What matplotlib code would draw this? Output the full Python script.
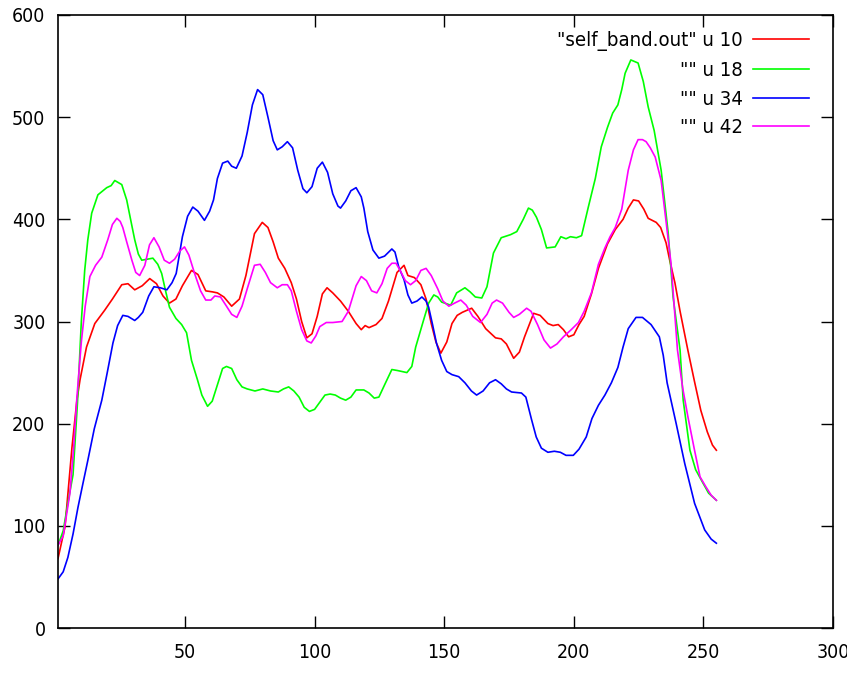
import numpy as np
import matplotlib
matplotlib.use("Agg")
from matplotlib import pyplot as plt

# values (column x, value)
red_x = [1, 3.7, 6.4, 8.3, 9.5, 12, 15.2, 19, 22, 25.6, 28, 30.6, 33.5, 36.4, 39, 41.5, 44, 46.5, 49, 52.5,
         55, 58, 60.6, 62.5, 65, 68, 71, 73.5, 76.8, 79.8, 82, 84, 86, 88.5, 91, 93, 95, 97, 99, 101,
         103, 104.8, 107, 110, 113, 116, 118, 119.5, 121, 123.7, 126, 128.5, 131.8, 134.5, 136, 138.5, 141, 143, 145, 146.8,
         148.7, 151, 153, 155, 157, 160.6, 163, 166, 169.8, 172, 174, 176.8, 179, 181, 184.5, 187, 190, 192, 194, 196,
         198, 200, 202, 204, 206.8, 209.5, 213, 216, 219, 221, 223, 225, 227, 228.7, 231.8, 233.5, 235.6, 237, 239, 241,
         244, 246.5, 249, 251.5, 253.5, 255]
red_y = [68, 99, 177, 223, 243, 275, 298, 311, 322, 336, 337, 331, 335, 342, 337, 325, 318, 322, 335, 350,
         346, 330, 329, 328, 324, 315, 322, 345, 386, 397, 392, 378, 362, 352, 338, 322, 300, 284, 288, 305,
         327, 333, 328, 320, 310, 298, 292, 296, 294, 297, 303, 320, 348, 355, 345, 343, 336, 322, 298, 280,
         269, 280, 298, 306, 309, 313, 305, 293, 284, 283, 278, 264, 270, 285, 308, 306, 298, 296, 297, 292,
         285, 287, 297, 305, 327, 352, 376, 390, 400, 411, 419, 418, 410, 401, 397, 392, 377, 360, 338, 310,
         272, 242, 213, 192, 179, 174]

green_x = [1, 3, 5, 6.8, 8.5, 10, 11.3, 12.5, 14, 16.4, 19.8, 21.5, 22.9, 25.6, 27.5, 29, 30.6, 32, 33.3, 35.5,
           37.6, 39.5, 41, 42.5, 44, 46.5, 48.7, 50.6, 52.5, 54.8, 56.5, 58.7, 60.5, 62.5, 64.5, 66, 68, 70, 72, 74,
           77, 80, 83, 86, 88, 90, 92, 94, 96, 98, 100, 102, 104, 106, 108, 110, 112, 114, 116, 119,
           121, 123, 124.8, 127, 129.8, 132, 135.6, 137.5, 139, 142, 144, 146, 147.5, 149, 152.5, 154.8, 158, 160, 162, 164.5,
           166.5, 169, 172, 175.6, 178, 180.5, 182.5, 184, 185.6, 187.5, 189.5, 192.8, 195, 197, 198.7, 201, 203, 205.6, 208.3, 210.6,
           213, 215, 217, 218.5, 219.8, 222, 224.8, 226.8, 228.7, 231, 233.7, 236.4, 238.3, 241, 242.2, 244.8, 247, 249.8, 252, 255]
green_y = [81, 95, 125, 150, 220, 300, 350, 380, 406, 424, 431, 433, 438, 434, 419, 400, 380, 366, 360, 361,
           362, 356, 347, 330, 314, 303, 297, 289, 262, 243, 228, 217, 222, 238, 254, 256, 254, 243, 236, 234,
           232, 234, 232, 231, 234, 236, 232, 226, 216, 212, 214, 221, 228, 229, 228, 225, 223, 226, 233, 233,
           230, 225, 226, 238, 253, 252, 250, 256, 275, 301, 318, 326, 324, 319, 316, 328, 333, 329, 324, 323,
           334, 367, 382, 385, 388, 400, 411, 409, 402, 390, 372, 373, 383, 381, 383, 382, 384, 412, 440, 471,
           490, 504, 512, 527, 543, 556, 553, 535, 510, 487, 448, 387, 324, 272, 223, 174, 155, 142, 132, 125]

blue_x = [1, 3, 4.8, 6.8, 8.7, 10.5, 12.5, 15, 17.9, 20, 22.2, 24, 26, 28, 30.6, 32, 33.7, 36, 38, 40.5,
          43, 45, 46.6, 49, 51, 53, 55, 57.5, 59.5, 61, 62.5, 64.5, 66.5, 68, 69.8, 72, 74, 76, 78, 80,
          82, 84, 85.6, 87.5, 89.5, 91.5, 93.5, 95.5, 97, 99, 101, 103, 105, 107, 109, 110, 112, 114, 116, 118,
          119, 120.5, 122.5, 124.8, 127, 129.8, 131, 132.5, 134.5, 136, 137.5, 139.5, 141.4, 143, 144, 145.5, 147, 149, 151, 153,
          155.6, 158, 160.5, 162.5, 165, 167.5, 169.8, 172, 174, 176, 179.8, 181.5, 183.7, 185.5, 187.5, 190, 192.5, 194.8, 197, 199.8,
          202, 204.8, 207, 209.5, 212, 214.5, 217, 219, 221, 224, 226.5, 229.8, 233, 234.5, 236, 239.5, 242.8, 246.6, 250.5, 253, 255]
blue_y = [48, 55, 69, 92, 118, 140, 164, 195, 223, 250, 279, 296, 306, 305, 301, 304, 309, 325, 334, 333,
          331, 338, 347, 383, 403, 412, 408, 399, 408, 419, 440, 455, 457, 452, 450, 462, 485, 512, 527, 522,
          500, 477, 468, 471, 476, 470, 448, 430, 426, 432, 450, 456, 446, 425, 413, 411, 418, 428, 431, 422,
          411, 388, 370, 362, 364, 371, 368, 353, 341, 326, 318, 320, 324, 320, 314, 297, 279, 262, 251, 248,
          246, 240, 232, 228, 232, 240, 243, 239, 234, 231, 230, 226, 204, 187, 176, 172, 173, 172, 169, 169,
          175, 187, 205, 218, 228, 240, 255, 275, 293, 304, 304, 297, 285, 267, 240, 200, 161, 122, 96, 87, 83]

magenta_x = [1, 3, 5.6, 7, 8.3, 10, 11.5, 13.3, 15.5, 17.9, 20.2, 22, 23.7, 25, 26, 27.5, 29.5, 31, 32.5, 34.5,
             36.3, 38, 40, 42, 44, 46, 48, 49.8, 51.5, 53.7, 56, 58, 60, 61.5, 63.7, 66, 68, 70, 72, 74,
             76.8, 79, 81, 83, 85.6, 87.5, 89.5, 91, 93, 95, 97, 98.7, 100.5, 102, 104.5, 107, 110.6, 113, 116, 118,
             120, 122, 124, 126, 128, 129.8, 131.4, 133, 135, 137, 139, 141, 143, 145, 147.5, 149.5, 151.8, 154, 156.4, 158.5,
             161, 164, 166.5, 168.5, 170.2, 172.5, 175, 176.8, 179, 181.8, 183.5, 186, 188.5, 191, 193.5, 196, 199, 201.8, 204, 206.8,
             209.5, 212, 214, 216, 218.5, 221, 223, 224.8, 226.5, 227.9, 229.5, 231.4, 233.7, 235.5, 237.5, 240, 242, 244, 246.5, 248.7,
             251, 253, 255]
magenta_y = [81, 90, 132, 175, 226, 280, 315, 344, 355, 363, 380, 395, 401, 398, 392, 378, 360, 348, 345, 355,
             375, 382, 373, 360, 357, 361, 369, 373, 365, 347, 330, 321, 321, 325, 324, 315, 307, 304, 315, 332,
             355, 356, 348, 338, 333, 336, 336, 330, 310, 292, 281, 279, 286, 295, 299, 299, 300, 310, 335, 344,
             340, 330, 328, 337, 352, 357, 357, 350, 340, 336, 340, 350, 352, 345, 332, 320, 315, 318, 321, 316,
             305, 299, 307, 318, 321, 318, 309, 304, 307, 313, 310, 297, 282, 274, 278, 285, 292, 299, 310, 328,
             356, 372, 383, 392, 410, 448, 468, 478, 478, 476, 470, 461, 438, 400, 357, 272, 235, 207, 175, 148,
             138, 130, 125]

labels = ['"self_band.out" u 10', '"" u 18', '"" u 34', '"" u 42']
colors = ['#ff0000', '#00ff00', '#0000ff', '#ff00ff']

plt.rcParams['font.family'] = ['DejaVu Sans']
plt.rcParams['font.stretch'] = 'condensed'
plt.rcParams['font.size'] = 14

fig = plt.figure(figsize=(8.47, 6.73), dpi=100)
ax = fig.add_axes([58 / 847, 45 / 673, 775 / 847, 613 / 673])

series = [(red_x, red_y), (green_x, green_y), (blue_x, blue_y), (magenta_x, magenta_y)]
for (xs, ys), lab, col in zip(series, labels, colors):
    ax.plot(xs, ys, color=col, lw=1.2, label=lab)

ax.set_xlim(1, 300)
ax.set_ylim(0, 600)
ax.set_xticks([50, 100, 150, 200, 250, 300])
ax.set_yticks([0, 100, 200, 300, 400, 500, 600])
ax.tick_params(direction='in', length=8.5, width=1.0, top=True, right=True, labelsize=14)
ax.tick_params(axis='x', pad=11)
ax.tick_params(axis='y', pad=9)
for s in ax.spines.values():
    s.set_linewidth(1.2)

ax.legend(loc='upper right', bbox_to_anchor=(1 - 6 / 775, 1 + 2 / 613),
          markerfirst=False, frameon=False, fontsize=14.6,
          handlelength=2.75, handletextpad=0.5, labelspacing=0.48,
          borderaxespad=0.5, borderpad=0.4)

fig.savefig('out.png', dpi=100)
